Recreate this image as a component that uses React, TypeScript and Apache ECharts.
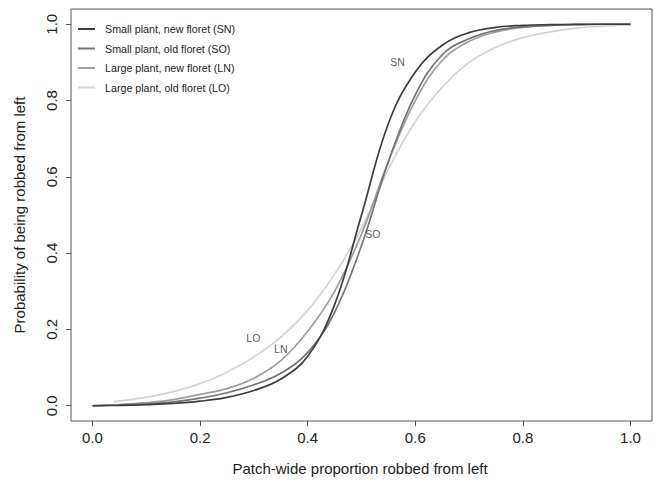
import React, { useEffect, useRef } from "react";
import * as echarts from "echarts";

// Patch-wide proportion robbed from left (x values)
const X_VALUES = [0, 0.05, 0.1, 0.15, 0.2, 0.25, 0.3, 0.35, 0.4, 0.45, 0.5, 0.55, 0.6, 0.65, 0.7, 0.75, 0.8, 0.85, 0.9, 0.95, 1.0];
const LO_X_VALUES = [0.04, 0.1, 0.15, 0.2, 0.25, 0.3, 0.35, 0.4, 0.45, 0.5, 0.55, 0.6, 0.65, 0.7, 0.75, 0.8, 0.85, 0.9, 0.95, 1.0];

// Probability of being robbed from left
const SN_VALUES = [0, 0.001, 0.003, 0.006, 0.012, 0.022, 0.04, 0.07, 0.13, 0.265, 0.5, 0.74, 0.875, 0.945, 0.978, 0.992, 0.997, 0.999, 1, 1, 1];
const SO_VALUES = [0, 0.002, 0.005, 0.01, 0.02, 0.034, 0.055, 0.085, 0.14, 0.245, 0.42, 0.64, 0.815, 0.92, 0.962, 0.984, 0.993, 0.997, 0.999, 1, 1];
const LN_VALUES = [0, 0.003, 0.008, 0.016, 0.03, 0.045, 0.072, 0.118, 0.195, 0.3, 0.45, 0.64, 0.8, 0.905, 0.955, 0.98, 0.992, 0.997, 0.999, 1, 1];
const LO_VALUES = [0.011, 0.022, 0.037, 0.058, 0.088, 0.128, 0.18, 0.25, 0.345, 0.465, 0.62, 0.745, 0.835, 0.9, 0.94, 0.965, 0.98, 0.99, 0.995, 0.998];

const SERIES_NAMES = [
  "Small plant, new floret (SN)",
  "Small plant, old floret (SO)",
  "Large plant, new floret (LN)",
  "Large plant, old floret (LO)",
];

const TICKS = [0, 0.2, 0.4, 0.6, 0.8, 1.0];

// in-plot curve labels
const LABEL_TEXTS = ["SN", "SO", "LN", "LO"];
const LABEL_X = [0.567, 0.521, 0.35, 0.299];
const LABEL_Y = [0.902, 0.449, 0.149, 0.178];

const X_TITLE = "Patch-wide proportion robbed from left";
const Y_TITLE = "Probability of being robbed from left";

const COLORS = ["#3c3c3c", "#747474", "#9e9e9e", "#d2d2d2"];
const FONT = "'Liberation Sans', Arial, Helvetica, sans-serif";

export default function App() {
  const ref = useRef<HTMLDivElement>(null);

  useEffect(() => {
    if (!ref.current) return;
    const chart = echarts.init(ref.current, undefined, { renderer: "svg" });

    const xs = [X_VALUES, X_VALUES, X_VALUES, LO_X_VALUES];
    const ys = [SN_VALUES, SO_VALUES, LN_VALUES, LO_VALUES];

    const lineSeries = SERIES_NAMES.map((name, i) => ({
      name,
      type: "line",
      data: ys[i].map((v, j) => [xs[i][j], v]),
      smooth: 0.4,
      symbol: "none",
      lineStyle: { color: COLORS[i], width: 1.7 },
      itemStyle: { color: COLORS[i] },
      z: 5 - i,
    }));

    const labelSeries = {
      name: "labels",
      type: "scatter",
      symbolSize: 0,
      silent: true,
      data: LABEL_TEXTS.map((t, i) => ({ name: t, value: [LABEL_X[i], LABEL_Y[i]] })),
      label: {
        show: true,
        position: "inside",
        formatter: "{b}",
        color: "#2a2a2a",
        fontSize: 10.5,
        fontFamily: FONT,
      },
      z: 10,
    };

    chart.setOption({
      animation: false,
      backgroundColor: "#ffffff",
      grid: {
        left: 71,
        right: 2,
        top: 9,
        bottom: 61,
        show: true,
        borderColor: "#555555",
        borderWidth: 1,
        containLabel: false,
      },
      legend: {
        data: SERIES_NAMES,
        orient: "vertical",
        left: 78,
        top: 23,
        padding: 0,
        itemWidth: 17,
        itemHeight: 2,
        itemGap: 7.5,
        icon: "rect",
        selectedMode: false,
        textStyle: {
          color: "#222222",
          fontSize: 10.7,
          fontFamily: FONT,
          lineHeight: 12,
          padding: [0, 0, 0, 5],
        },
      },
      xAxis: {
        type: "value",
        min: -0.04,
        max: 1.04,
        splitLine: { show: false },
        axisLine: { show: false, onZero: false },
        axisTick: {
          show: true,
          customValues: TICKS,
          length: 5,
          lineStyle: { color: "#555555" },
        },
        axisLabel: {
          customValues: TICKS,
          formatter: (v: number) => v.toFixed(1),
          color: "#222222",
          fontSize: 15,
          fontFamily: FONT,
          margin: 9,
        },
      },
      yAxis: {
        type: "value",
        min: -0.04,
        max: 1.04,
        splitLine: { show: false },
        axisLine: { show: false, onZero: false },
        axisTick: {
          show: true,
          customValues: TICKS,
          length: 5,
          lineStyle: { color: "#555555" },
        },
        axisLabel: {
          customValues: TICKS,
          formatter: (v: number) => v.toFixed(1),
          color: "#222222",
          fontSize: 15,
          fontFamily: FONT,
          rotate: 90,
          margin: 12,
        },
      },
      graphic: [
        {
          type: "text",
          x: 360,
          y: 468,
          style: {
            text: X_TITLE,
            fill: "#222222",
            fontSize: 15,
            fontFamily: FONT,
            align: "center",
            verticalAlign: "middle",
          },
        },
        {
          type: "text",
          x: 19,
          y: 215,
          rotation: Math.PI / 2,
          style: {
            text: Y_TITLE,
            fill: "#222222",
            fontSize: 15,
            fontFamily: FONT,
            align: "center",
            verticalAlign: "middle",
          },
        },
      ],
      series: [...lineSeries, labelSeries],
    });

    return () => chart.dispose();
  }, []);

  return (
    <div
      ref={ref}
      style={{ position: "fixed", left: 0, top: 0, width: 654, height: 482, background: "#fff" }}
    />
  );
}
